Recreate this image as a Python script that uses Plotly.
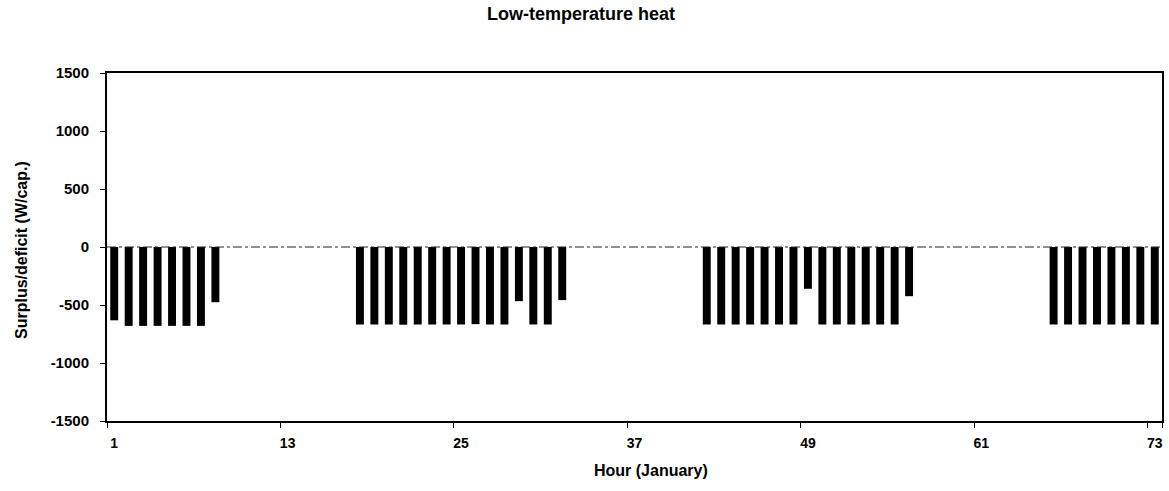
import plotly.graph_objects as go

# Hours of January shown on the x axis
hours = list(range(1, 74))

# Surplus/deficit values (W/cap.) per hour (0 = no bar)
group1 = [-632, -680, -680, -680, -680, -680, -680, -476]                     # hours 1-8
gap1 = [0] * 9                                                                 # hours 9-17
group2 = [-668, -668, -668, -670, -668, -668, -668, -668, -665, -668, -668,
          -467, -668, -668, -458]                                              # hours 18-32
gap2 = [0] * 9                                                                 # hours 33-41
group3 = [-668, -668, -668, -668, -668, -668, -668, -360, -668, -668, -668,
          -668, -668, -668, -424]                                              # hours 42-56
gap3 = [0] * 9                                                                 # hours 57-65
group4 = [-668, -668, -668, -668, -668, -668, -668, -668]                     # hours 66-73

values = group1 + gap1 + group2 + gap2 + group3 + gap3 + group4

x_tick_vals = [1, 13, 25, 37, 49, 61, 73]
x_tick_text = ["1", "13", "25", "37", "49", "61", "73"]
y_tick_vals = [-1500, -1000, -500, 0, 500, 1000, 1500]
y_tick_text = ["-1500", "-1000", "-500", "0", "500", "1000", "1500"]

title_text = "Low-temperature heat"
x_title = "Hour (January)"
y_title = "Surplus/deficit (W/cap.)"

FONT = "Arial, Liberation Sans, sans-serif"

fig = go.Figure()
fig.add_trace(go.Bar(
    x=hours, y=values,
    width=0.55,
    marker=dict(color="black", line=dict(width=0)),
    showlegend=False,
))

# dash-dot zero reference line
fig.add_shape(type="line", xref="paper", x0=0, x1=1, yref="y", y0=0, y1=0,
              line=dict(color="#222222", width=1, dash="dashdot"), layer="above")

fig.update_layout(
    width=1169, height=491,
    margin=dict(l=107, r=7, t=73, b=70, autoexpand=False),
    paper_bgcolor="white", plot_bgcolor="white",
    font=dict(family=FONT, color="black", size=13),
    title=dict(text="<b>" + title_text + "</b>", x=581 / 1169, xref="container", xanchor="center",
               y=1 - 14 / 491, yref="container", yanchor="middle",
               font=dict(size=18, family=FONT, color="black")),
    bargap=0.45,
)

fig.update_xaxes(
    range=[0.5, 73.5], automargin=False,
    tickmode="array", tickvals=x_tick_vals, ticktext=["<b>" + t + "</b>" for t in x_tick_text],
    ticks="", ticklabelstandoff=8, ticklabeloverflow="allow",
    minor=dict(tickmode="array", tickvals=[v - 0.5 for v in x_tick_vals] + [73.5],
               ticks="outside", ticklen=5, tickwidth=1, tickcolor="black"),
    showline=True, linecolor="black", linewidth=2, mirror=True,
    showgrid=False, zeroline=False,
    tickfont=dict(size=14, family=FONT, color="black"),
)

fig.update_yaxes(
    range=[-1500, 1500], automargin=False,
    tickmode="array", tickvals=y_tick_vals, ticktext=["<b>" + t + "</b>" for t in y_tick_text],
    ticks="outside", ticklen=5, tickwidth=1, tickcolor="black", ticklabelstandoff=8,
    showline=True, linecolor="black", linewidth=2, mirror=True,
    showgrid=False, zeroline=False,
    tickfont=dict(size=15, family=FONT, color="black"),
)

fig.add_annotation(text="<b>" + x_title + "</b>", xref="paper", yref="paper",
                   x=(651 - 107) / 1055, y=-(470 - 421) / 348,
                   xanchor="center", yanchor="middle", showarrow=False,
                   font=dict(size=16, family=FONT, color="black"))
fig.add_annotation(text="<b>" + y_title + "</b>", xref="paper", yref="paper",
                   x=-(107 - 21) / 1055, y=(421 - 250) / 348, textangle=-90,
                   xanchor="center", yanchor="middle", showarrow=False,
                   font=dict(size=16, family=FONT, color="black"))

fig.write_html("out.html", config={"displayModeBar": False},
               post_script="document.body.style.margin='0';")
